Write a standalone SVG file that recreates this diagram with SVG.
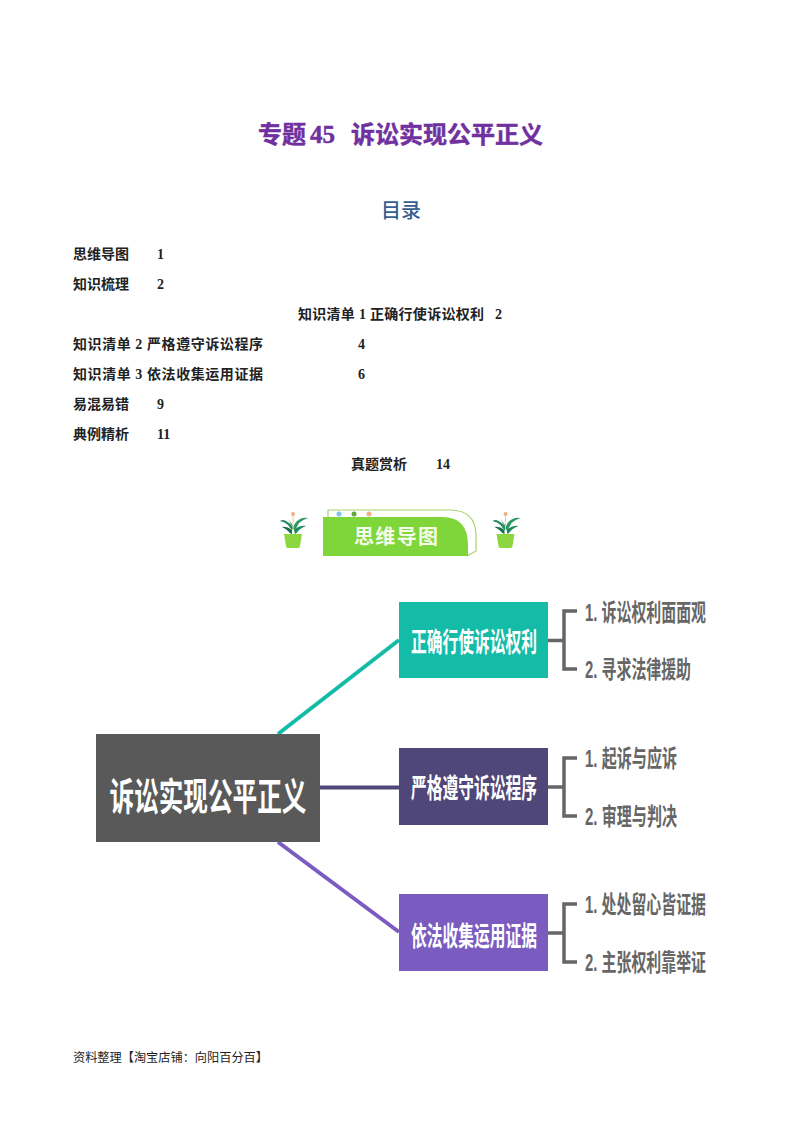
<svg xmlns="http://www.w3.org/2000/svg" width="800" height="1132" viewBox="0 0 800 1132">
<defs>
<g id="plant">
<path d="M0 14Q-1 9 -7 6Q-10 4 -13 6Q-8 7 -5 10Q-3 13 -1 15Z" fill="#1f8a5b"/>
<path d="M0 14Q1 7 7 4Q11 2 15 3Q9 5 6 8Q4 12 2 15Z" fill="#2a9a62"/>
<path d="M-1 15Q-6 11 -11 12Q-7 14 -5 16Q-3 19 -1 19Z" fill="#166f4b"/>
<path d="M1 15Q7 10 13 11Q8 13 6 15Q4 18 2 19Z" fill="#1f8a5b"/>
<path d="M0 14Q-3 7 -5 4Q-1 8 1 14Z" fill="#2a9a62"/>
<path d="M0 15V0" stroke="#e8cf9a" stroke-width="1"/><circle cx="0" cy="-1" r="2" fill="#f0b080"/>
<path d="M-9 19H9L7 31Q7 33 5 33H-5Q-7 33 -7 31Z" fill="#8ed63f"/>
</g>
</defs>
<style>
text{font-family:"Liberation Serif","Noto Sans CJK SC",serif}
.toc{font-size:14px;font-weight:700;fill:#222}
.foot{font-size:12.2px;fill:#222}
.s{font-family:"Liberation Sans","Noto Sans CJK SC",sans-serif;font-weight:700}
.node{font-size:27px;fill:#fff;text-anchor:middle}
.leaf{font-size:24px;fill:#666}
.br{fill:none;stroke:#666;stroke-width:3.5}
</style>
<rect width="800" height="1132" fill="#fff"/>
<g class="s" font-size="24" fill="#7030a0" stroke="#7030a0" stroke-width=".5">
<text x="258" y="143">专题</text><text x="310" y="143" font-size="25">45</text><text x="351" y="143">诉讼实现公平正义</text>
</g>
<text class="s" x="401" y="218" font-size="20" fill="#366091" text-anchor="middle" style="font-weight:500">目录</text>
<g class="toc">
<text x="73" y="259">思维导图</text><text x="157" y="259">1</text>
<text x="73" y="289">知识梳理</text><text x="157" y="289">2</text>
<text x="298" y="319" textLength="186">知识清单 1 正确行使诉讼权利</text><text x="495" y="319">2</text>
<text x="73" y="349" textLength="190">知识清单 2 严格遵守诉讼程序</text><text x="358" y="349">4</text>
<text x="73" y="379" textLength="190">知识清单 3 依法收集运用证据</text><text x="358" y="379">6</text>
<text x="73" y="409">易混易错</text><text x="157" y="409">9</text>
<text x="73" y="439">典例精析</text><text x="157" y="439">11</text>
<text x="351" y="469">真题赏析</text><text x="436" y="469">14</text>
</g>
<g id="banner">
<path d="M328 517V510H450Q476 510 476 536V551L467 556" fill="none" stroke="#a9d26a" stroke-width="1.2"/>
<circle cx="339" cy="514" r="2.5" fill="#7cc4f0"/><circle cx="354" cy="514" r="2.5" fill="#5fa83a"/><circle cx="369" cy="514" r="2.5" fill="#f0b080"/>
<path d="M323 517H442Q468 517 468 545V556H323Z" fill="#7ed63a"/>
<text x="396" y="544" font-size="20" font-weight="700" fill="#f4fbe8" text-anchor="middle" textLength="84" style="font-family:'Noto Sans CJK SC',sans-serif">思维导图</text>
</g>
<use id="plant-left" href="#plant" x="293" y="515"/>
<use id="plant-right" href="#plant" x="505.500" y="515"/>
<g id="connectors" fill="none" stroke-width="4">
<path d="M278 734L399 640" stroke="#14bca8"/>
<path d="M320 787.500H399" stroke="#4f4679"/>
<path d="M278 842L399 932" stroke="#7a5cc0"/>
<path class="br" d="M548 640.500H564M577 611H564V669H577"/>
<path class="br" d="M548 787H564M577 758H564V816H577"/>
<path class="br" d="M548 933H564M577 904H564V962H577"/>
</g>
<g id="root"><rect x="96" y="734" width="224" height="108" fill="#595959"/>
<text class="s" x="208" y="810" font-size="38" fill="#fff" text-anchor="middle" textLength="197" lengthAdjust="spacingAndGlyphs">诉讼实现公平正义</text></g>
<g id="n1"><rect x="399" y="602" width="149" height="76" fill="#14bca8"/><text class="s node" x="474" y="652" textLength="126" lengthAdjust="spacingAndGlyphs">正确行使诉讼权利</text></g>
<g id="n2"><rect x="399" y="748" width="149" height="77" fill="#4f4679"/><text class="s node" x="474" y="798" textLength="126" lengthAdjust="spacingAndGlyphs">严格遵守诉讼程序</text></g>
<g id="n3"><rect x="399" y="894" width="149" height="77" fill="#7a5cc0"/><text class="s node" x="474" y="946" textLength="126" lengthAdjust="spacingAndGlyphs">依法收集运用证据</text></g>
<g id="l11"><text class="s leaf" x="585" y="621" textLength="121" lengthAdjust="spacingAndGlyphs">1. 诉讼权利面面观</text></g>
<g id="l12"><text class="s leaf" x="585" y="678" textLength="106" lengthAdjust="spacingAndGlyphs">2. 寻求法律援助</text></g>
<g id="l21"><text class="s leaf" x="585" y="767" textLength="92" lengthAdjust="spacingAndGlyphs">1. 起诉与应诉</text></g>
<g id="l22"><text class="s leaf" x="585" y="825" textLength="92" lengthAdjust="spacingAndGlyphs">2. 审理与判决</text></g>
<g id="l31"><text class="s leaf" x="585" y="913" textLength="121" lengthAdjust="spacingAndGlyphs">1. 处处留心皆证据</text></g>
<g id="l32"><text class="s leaf" x="585" y="971" textLength="121" lengthAdjust="spacingAndGlyphs">2. 主张权利靠举证</text></g>
<text class="foot" x="73" y="1062">资料整理【淘宝店铺：向阳百分百】</text>
</svg>
